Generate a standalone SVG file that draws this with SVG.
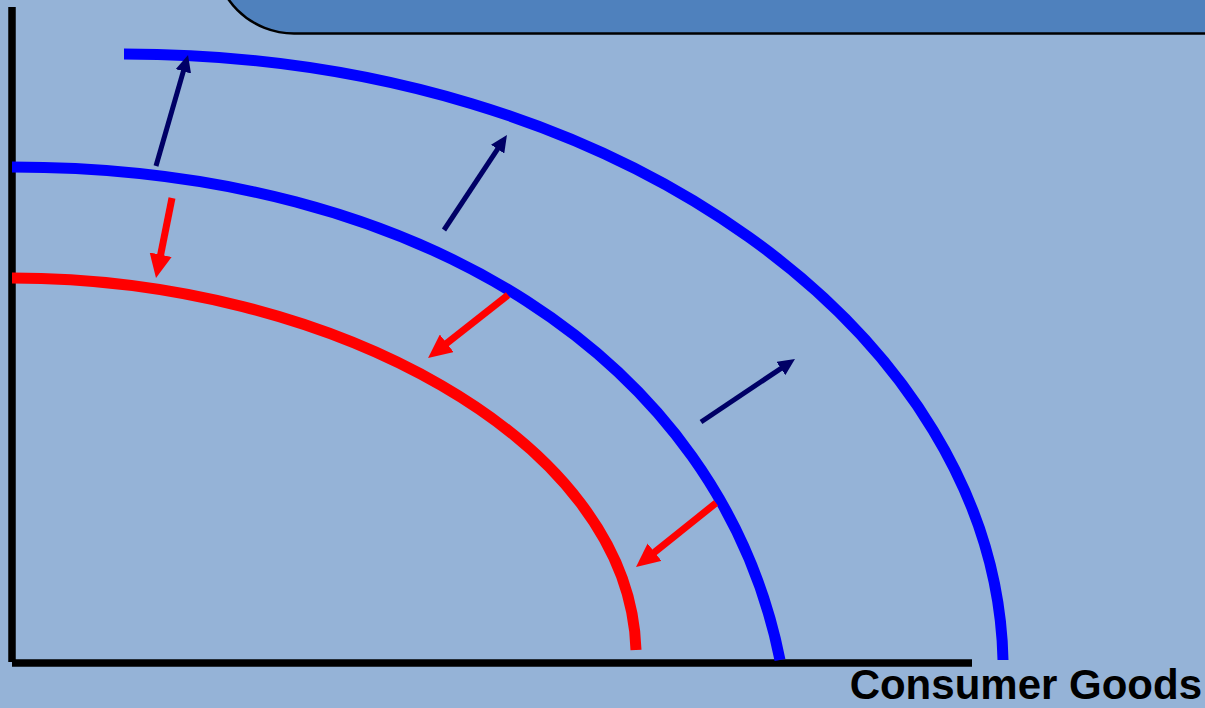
<svg xmlns="http://www.w3.org/2000/svg" width="1205" height="708" viewBox="0 0 1205 708">
<style>
.curve{fill:none;stroke-width:11}
.blue{stroke:#0000FF}
.red{stroke:#FF0000}
.axis{stroke:#000000;stroke-width:7.5;fill:none}
.up{stroke:#000066;stroke-width:5;marker-end:url(#headNavy)}
.down{stroke:#FF0000;stroke-width:7;marker-end:url(#headRed)}
.label{font-family:"Liberation Sans",Arial,sans-serif;font-weight:bold;font-size:42px;fill:#000000}
</style>
<defs>
<marker id="headNavy" markerUnits="strokeWidth" viewBox="0 0 3.4 3.2" markerWidth="3.4" markerHeight="3.2" refX="1.5" refY="1.6" orient="auto">
<path d="M0,0 L3.4,1.6 L0,3.2 Z" fill="#000066"/>
</marker>
<marker id="headRed" markerUnits="strokeWidth" viewBox="0 0 3.4 3.2" markerWidth="3.4" markerHeight="3.2" refX="1.5" refY="1.6" orient="auto">
<path d="M0,0 L3.4,1.6 L0,3.2 Z" fill="#FF0000"/>
</marker>
</defs>
<rect x="0" y="0" width="1205" height="708" fill="#95B3D7"/>
<g id="title-box">
<rect x="214" y="-200" width="1100" height="233.5" rx="80" ry="80" fill="#4F81BD" stroke="#000000" stroke-width="2.5"/>
</g>
<g id="axes">
<line class="axis" x1="12" y1="7" x2="12" y2="662"/>
<line class="axis" x1="12" y1="663" x2="972" y2="663"/>
</g>
<g id="ppf-outer">
<path class="curve blue" d="M124,54 C625,54 996,340 1003,660"/>
</g>
<g id="ppf-original">
<path class="curve blue" d="M12,167 C420,167 720,360 780,660"/>
</g>
<g id="ppf-inner">
<path class="curve red" d="M12,278 C330,278 630,440 636,650"/>
</g>
<g id="connectors">
<line class="up" x1="156" y1="166" x2="185.4" y2="64.1"/>
<line class="up" x1="444" y1="230" x2="501.7" y2="142.9"/>
<line class="up" x1="701" y1="422" x2="787.1" y2="364.3"/>
<line class="down" x1="172" y1="198" x2="158.6" y2="265"/>
<line class="down" x1="508" y1="295" x2="438.5" y2="349.8"/>
<line class="down" x1="716" y1="503" x2="646.4" y2="558.7"/>
</g>
<g id="x-label">
<text class="label" x="1202" y="699" text-anchor="end">Consumer Goods</text>
</g>
</svg>
